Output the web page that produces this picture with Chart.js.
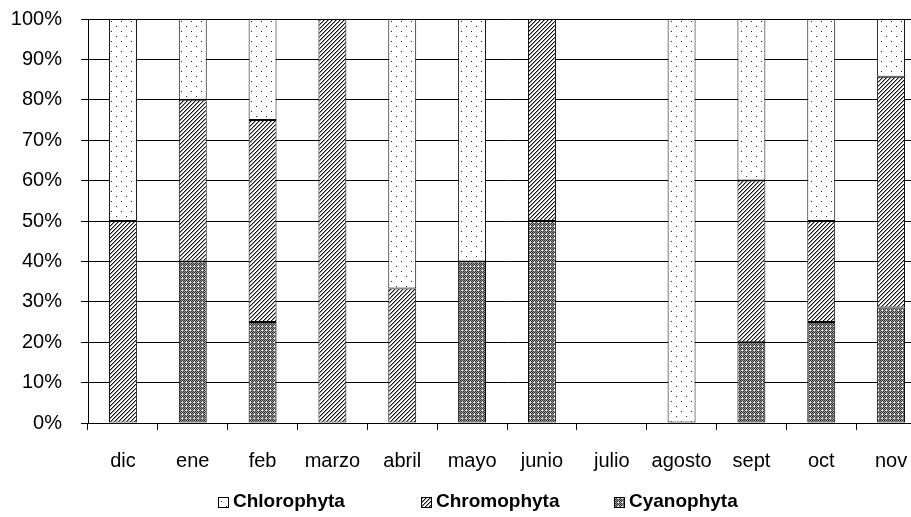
<!DOCTYPE html>
<html><head><meta charset="utf-8">
<script src="https://cdn.jsdelivr.net/npm/chart.js@4/dist/chart.umd.min.js"></script>
<style>
html,body{margin:0;padding:0;background:#fff;overflow:hidden;width:911px;height:517px}
#wrap{position:relative;width:926px;height:517px}
</style>
</head><body><div id="wrap"><canvas id="c"></canvas></div>
<script>
const months = ['dic','ene','feb','marzo','abril','mayo','junio','julio','agosto','sept','oct','nov'];
const cyanophyta  = [null, 40, 25, null, null, 40, 50, null, null, 20, 25, 28.6];
const chromophyta = [50, 40, 50, 100, 33.3, null, 50, null, null, 40, 25, 57.1];
const chlorophyta = [50, 20, 25, null, 66.7, 60, null, null, 100, 40, 50, 14.3];
const yMin = 0, yMax = 100, yStep = 10;

function pat(w, h, draw) {
  const c = document.createElement('canvas'); c.width = w; c.height = h;
  const x = c.getContext('2d'); draw(x); return x.createPattern(c, 'repeat');
}
const patChloro = pat(10, 10, x => {
  x.fillStyle = '#fff'; x.fillRect(0, 0, 10, 10);
  x.fillStyle = '#222'; x.fillRect(1, 1, 1, 1); x.fillRect(6, 6, 1, 1);
});
const patChromo = pat(4, 4, x => {
  x.fillStyle = '#fff'; x.fillRect(0, 0, 4, 4);
  for (let i = 0; i < 4; i++) {
    x.fillStyle = '#111'; x.fillRect(3 - i, i, 1, 1);
    x.fillStyle = '#999'; x.fillRect((4 - i) % 4, i, 1, 1);
  }
});
const patCyano = pat(4, 4, x => {
  for (let i = 0; i < 4; i++) for (let j = 0; j < 4; j++) {
    x.fillStyle = ((i + j) % 2 === 0) ? '#333' : '#999';
    x.fillRect(i, j, 1, 1);
  }
  x.fillStyle = '#fff'; x.fillRect(2, 2, 1, 1);
  x.fillStyle = '#d8d8d8'; x.fillRect(1, 2, 1, 1); x.fillRect(2, 1, 1, 1);
});

const legendPlugin = {
  id: 'customLegend',
  afterDraw(chart) {
    const ctx = chart.ctx;
    const items = [{ ds: 2, x: 218 }, { ds: 1, x: 421 }, { ds: 0, x: 614 }];
    ctx.save();
    ctx.font = 'bold 19px "Liberation Sans", Arial, sans-serif';
    ctx.textBaseline = 'alphabetic';
    items.forEach(it => {
      const ds = chart.data.datasets[it.ds];
      ctx.fillStyle = ds.backgroundColor;
      ctx.fillRect(it.x, 497, 10, 10);
      ctx.strokeStyle = '#000'; ctx.lineWidth = 1;
      ctx.strokeRect(it.x + 0.5, 497.5, 10, 10);
      ctx.fillStyle = '#000';
      ctx.fillText(ds.label, it.x + 15, 507);
    });
    ctx.restore();
  }
};

const tickFont = { family: '"Liberation Sans", Arial, sans-serif', size: 20 };

new Chart(document.getElementById('c'), {
  type: 'bar',
  data: {
    labels: months,
    datasets: [
      { label: 'Cyanophyta', data: cyanophyta, backgroundColor: patCyano },
      { label: 'Chromophyta', data: chromophyta, backgroundColor: patChromo },
      { label: 'Chlorophyta', data: chlorophyta, backgroundColor: patChloro }
    ]
  },
  options: {
    responsive: true, maintainAspectRatio: false, animation: false,
    layout: { padding: { top: 19, left: 0, right: 0, bottom: 0 } },
    datasets: { bar: { categoryPercentage: 1, barPercentage: 0.4, borderColor: '#000', borderWidth: 1, borderSkipped: false } },
    plugins: { legend: { display: false }, tooltip: { enabled: false } },
    scales: {
      x: {
        stacked: true,
        afterFit: s => { s.height = 94; s.paddingLeft = 0; s.paddingRight = 0; },
        grid: { offset: true, drawOnChartArea: false, drawTicks: true, tickLength: 7, color: '#000' },
        border: { color: '#000', width: 1 },
        ticks: { color: '#000', font: tickFont, padding: 19, maxRotation: 0, autoSkip: false }
      },
      y: {
        stacked: true, min: yMin, max: yMax,
        afterFit: s => { s.width = 88; s.paddingTop = 0; s.paddingBottom = 0; },
        grid: { color: '#000', tickLength: 7 },
        border: { color: '#000', width: 1 },
        ticks: { stepSize: yStep, callback: v => v + '%', color: '#000', padding: 19, font: tickFont }
      }
    }
  },
  plugins: [legendPlugin]
});
</script>
</body></html>
